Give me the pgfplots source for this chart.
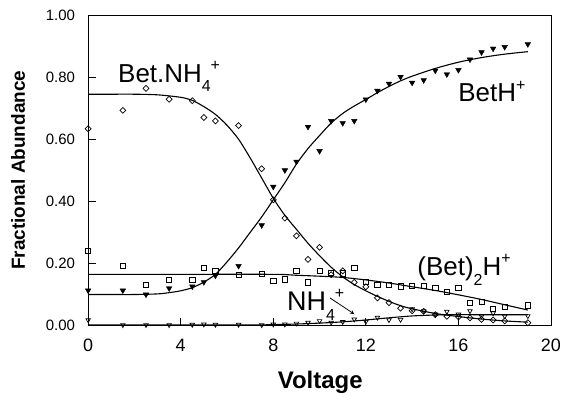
\documentclass[border=0pt]{standalone}
\usepackage{fontspec}
\setmainfont{Liberation Sans}
\usepackage{pgfplots}
\pgfplotsset{compat=1.18}
\newcommand{\hi}[1]{\raisebox{0.45em}{\fontsize{16}{16}\selectfont #1}}
\newcommand{\lo}[1]{\raisebox{-0.38em}{\fontsize{16}{16}\selectfont #1}}
\begin{document}
\begin{tikzpicture}
\begin{axis}[
  scale only axis, width=462bp, height=310bp,
  xmin=0, xmax=20, ymin=0, ymax=1,
  xtick={0,4,8,12,16,20},
  ytick={0,0.2,0.4,0.6,0.8,1.0},
  xtick pos=bottom, ytick pos=left,
  tick align=inside, major tick length=8bp,
  tick style={black, line width=0.8bp},
  axis line style={black, line width=0.9bp},
  /pgf/number format/assume math mode=true,
  yticklabel style={/pgf/number format/.cd, fixed, fixed zerofill, precision=2, /tikz/.cd,
     anchor=east, inner sep=0pt, xshift=-13bp, font=\fontsize{15}{15}\selectfont},
  xticklabel style={anchor=north, inner sep=0pt, yshift=-13bp, font=\fontsize{18}{18}\selectfont},
  xlabel={Voltage},
  ylabel={Fractional Abundance},
  xlabel style={at={(axis description cs:0.5015,-0.203)}, anchor=base, inner sep=0pt, font=\fontsize{24}{24}\selectfont\bfseries},
  ylabel style={at={(axis description cs:-0.137,0.5)}, anchor=base, inner sep=0pt, font=\fontsize{19}{19}\selectfont\bfseries},
  clip=false,
]
% ---- fitted curves ----
\addplot[black, line width=1.1bp, smooth, tension=0.5] coordinates {
(0,0.745)(1,0.745)(2,0.745)(3,0.743)(4,0.735)(4.5,0.725)(5,0.705)(5.5,0.68)(6,0.645)(6.5,0.60)(7,0.54)(7.5,0.475)(8,0.41)(8.5,0.355)(9,0.31)(9.5,0.265)(10,0.225)(10.5,0.188)(11,0.157)(11.5,0.132)(12,0.112)(12.5,0.094)(13,0.078)(13.5,0.064)(14,0.054)(15,0.039)(16,0.029)(17,0.021)(18,0.015)(19,0.011)};
\addplot[black, line width=1.1bp, smooth, tension=0.5] coordinates {
(0,0.10)(1,0.10)(2,0.10)(3,0.102)(3.5,0.106)(4,0.112)(4.5,0.122)(5,0.14)(5.5,0.165)(6,0.205)(6.5,0.25)(7,0.30)(7.5,0.35)(8,0.405)(8.5,0.46)(9,0.52)(9.5,0.57)(10,0.612)(10.5,0.652)(11,0.683)(11.5,0.707)(12,0.728)(12.5,0.75)(13,0.77)(13.5,0.788)(14,0.803)(15,0.828)(16,0.848)(17,0.863)(18,0.874)(19,0.882)};
\addplot[black, line width=1.1bp, smooth, tension=0.5] coordinates {
(0,0.165)(4,0.165)(8,0.165)(9,0.162)(10,0.159)(11,0.155)(12,0.147)(13,0.137)(14,0.125)(15,0.113)(16,0.099)(17,0.084)(18,0.067)(19,0.05)};
\addplot[black, line width=1.1bp, smooth, tension=0.5] coordinates {
(0,0.002)(4,0.002)(7,0.002)(8,0.003)(9,0.005)(10,0.008)(11,0.012)(12,0.018)(13,0.025)(14,0.031)(15,0.034)(16,0.035)(17,0.035)(19,0.035)};
% ---- Bet.NH4+ (open diamonds) ----
\addplot[only marks, mark=square, mark size=2.1bp, mark options={rotate=45, line width=0.7bp, fill=white}] coordinates {
(0,0.634)(1.5,0.693)(2.5,0.764)(3.5,0.729)(4.5,0.724)(5,0.670)(5.5,0.659)(6.5,0.644)(7.5,0.505)(8,0.405)(8.5,0.346)(9,0.289)(9.5,0.213)(10,0.252)(10.5,0.164)(11,0.176)(11.5,0.139)(12,0.125)(12.5,0.089)(13,0.074)(13.5,0.056)(14,0.048)(14.5,0.046)(15,0.035)(15.5,0.030)(16,0.028)(16.5,0.025)(17,0.020)(17.5,0.018)(18,0.015)(19,0.009)};
% ---- (Bet)2H+ (open squares) ----
\addplot[only marks, mark=square, mark size=2.6bp, mark options={line width=0.7bp, fill=white}] coordinates {
(0,0.240)(1.5,0.193)(2.5,0.132)(3.5,0.148)(4.5,0.148)(5,0.186)(5.5,0.177)(6.5,0.163)(7.5,0.166)(8,0.145)(8.5,0.149)(9,0.175)(9.5,0.139)(10,0.177)(10.5,0.171)(11,0.168)(11.5,0.186)(12,0.140)(12.5,0.132)(13,0.132)(13.5,0.126)(14,0.129)(14.5,0.129)(15,0.122)(15.5,0.108)(16,0.122)(16.5,0.074)(17,0.076)(17.5,0.053)(18,0.061)(19,0.065)};
% ---- BetH+ (filled down triangles) ----
\addplot[only marks, mark=triangle*, mark size=3.2bp, mark options={rotate=180, fill=black}] coordinates {
(0,0.113)(1.5,0.113)(2.5,0.100)(3.5,0.120)(4.5,0.126)(5,0.140)(5.5,0.161)(6.5,0.192)(7.5,0.323)(8,0.447)(8.5,0.500)(9,0.528)(9.5,0.640)(10,0.562)(10.5,0.659)(11,0.652)(11.5,0.659)(12,0.728)(12.5,0.756)(13,0.779)(13.5,0.801)(14,0.782)(14.5,0.790)(15,0.821)(15.5,0.809)(16,0.823)(16.5,0.857)(17,0.880)(17.5,0.892)(18,0.897)(19,0.906)};
% ---- NH4+ (open down triangles) ----
\addplot[only marks, mark=triangle, mark size=2.6bp, mark options={rotate=180, line width=0.7bp, fill=white}] coordinates {
(0,0.018)(1.5,0.002)(2.5,0.002)(3.5,0.002)(4.5,0.003)(5,0.004)(5.5,0.003)(6.5,0.003)(7.5,0.002)(8,0.004)(8.5,0.004)(9,0.007)(9.5,0.010)(10,0.015)(10.5,0.010)(11,0.012)(11.5,0.020)(12,0.013)(12.5,0.026)(13,0.018)(13.5,0.019)(14,0.053)(14.5,0.047)(15,0.036)(15.5,0.045)(16,0.036)(16.5,0.047)(17,0.030)(17.5,0.040)(18,0.030)(19,0.031)};
% ---- annotations ----
\node[anchor=base west, inner sep=0pt, font=\fontsize{26}{26}\selectfont] at (axis cs:1.29,0.784) {Bet.NH\lo{4}\hi{+}};
\node[anchor=base west, inner sep=0pt, font=\fontsize{26}{26}\selectfont] at (axis cs:15.99,0.72) {BetH\hi{+}};
\node[anchor=base west, inner sep=0pt, font=\fontsize{26}{26}\selectfont] at (axis cs:14.22,0.161) {(Bet)\lo{2}H\hi{+}};
\node[anchor=base west, inner sep=0pt, font=\fontsize{27}{27}\selectfont] at (axis cs:8.59,0.048) {NH\lo{4}\hi{+}};
\draw[->, line width=0.8bp, >=stealth] (axis cs:10.45,0.089) -- (axis cs:11.5,0.037);
\end{axis}
\pgfresetboundingbox
\path[use as bounding box] (-88bp,-67bp) rectangle (476bp,325bp);
\end{tikzpicture}
\end{document}
